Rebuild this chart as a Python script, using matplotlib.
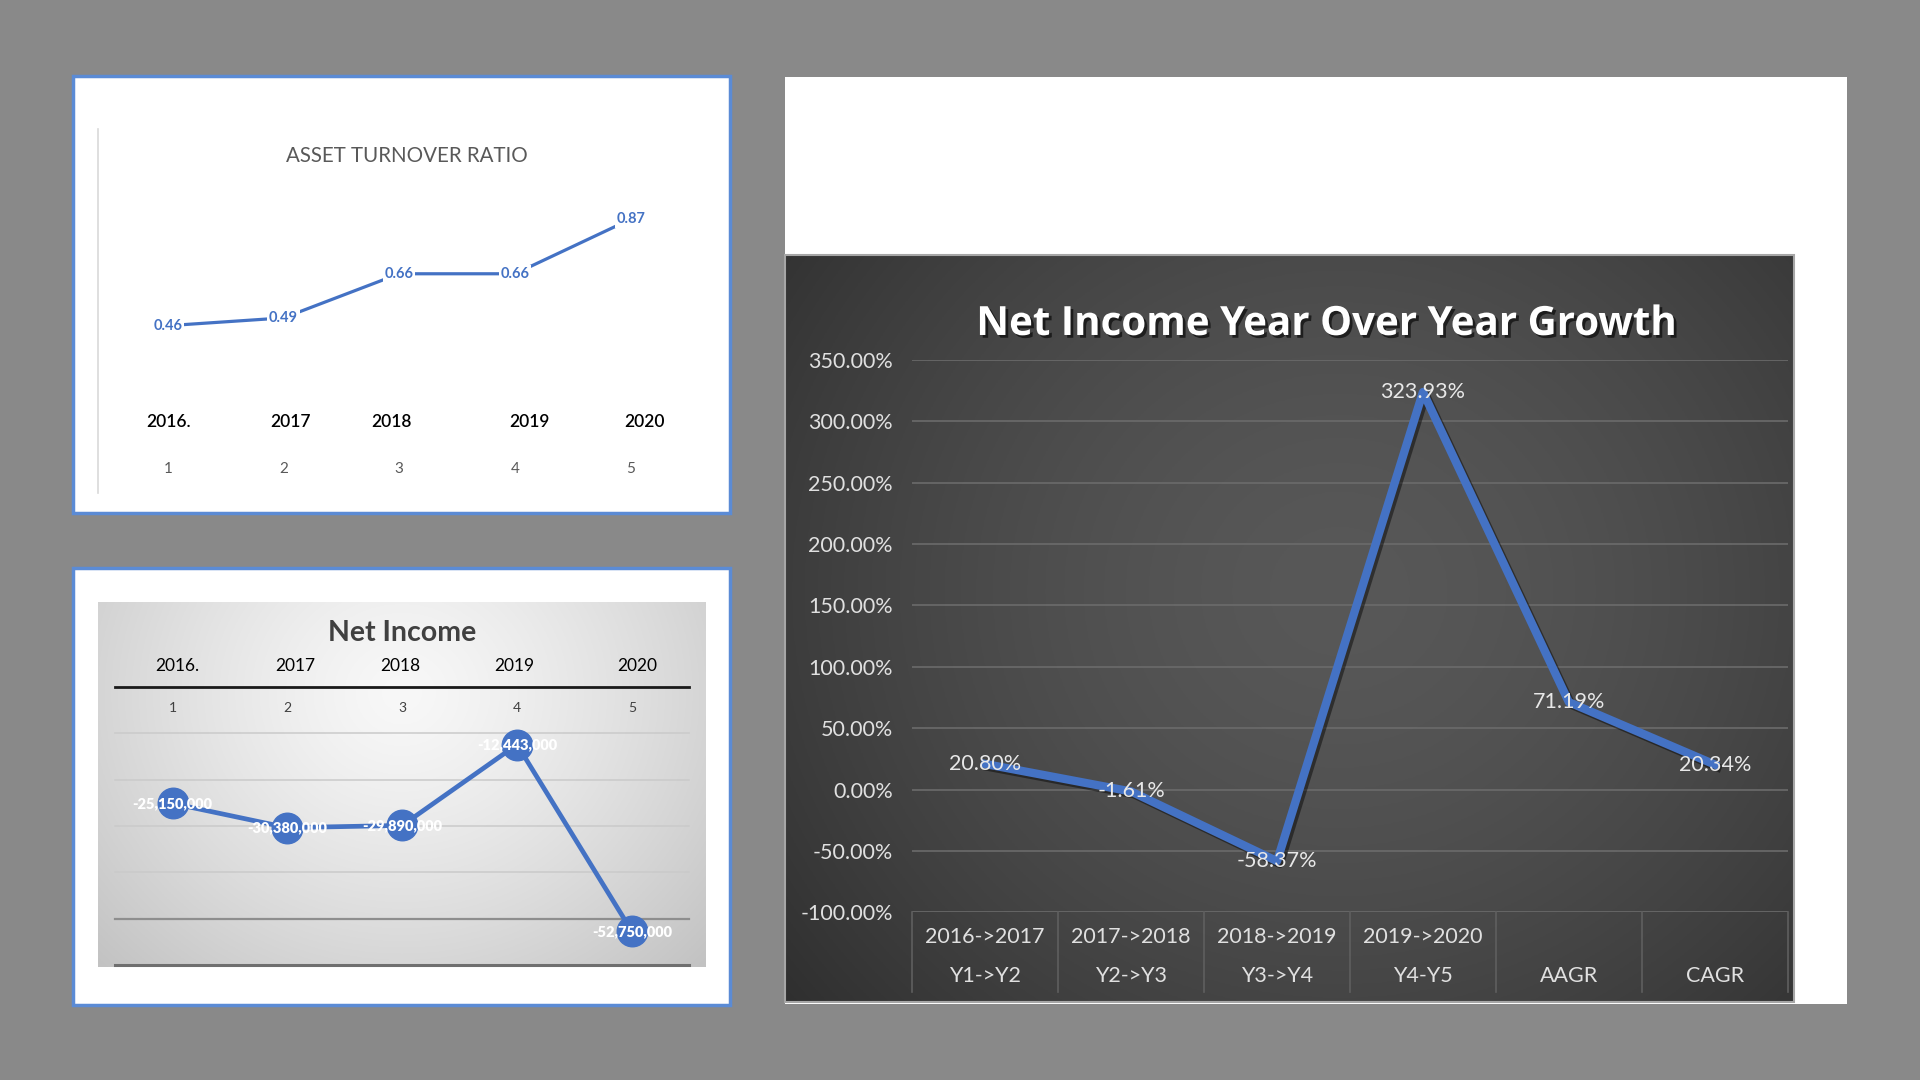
"""Three financial charts on one slide: asset turnover, net income and its growth."""

import numpy as np
import matplotlib
matplotlib.use("Agg")
from matplotlib import pyplot as plt
from matplotlib import patheffects as pe
from matplotlib import colors as mcolors
from matplotlib.patches import Rectangle
from matplotlib.transforms import blended_transform_factory

plt.rcParams['font.family'] = ['Lato', 'DejaVu Sans']

# Asset turnover ratio
atr_index = [1, 2, 3, 4, 5]
atr_years = ["2016.", "2017", "2018", "2019", "2020"]
atr_values = [0.46, 0.49, 0.66, 0.66, 0.87]

# Net income
ni_index = [1, 2, 3, 4, 5]
ni_years = ["2016.", "2017", "2018", "2019", "2020"]
ni_values = [-25150000, -30380000, -29890000, -12443000, -52750000]

# Net income year over year growth [%]
growth_periods = ["2016->2017", "2017->2018", "2018->2019", "2019->2020", "", ""]
growth_labels = ["Y1->Y2", "Y2->Y3", "Y3->Y4", "Y4-Y5", "AAGR", "CAGR"]
growth_values = [20.80, -1.61, -58.37, 323.93, 71.19, 20.34]

BLUE = '#4472c4'
W, H = 1568, 882    # layout grid the positions below are measured on


def rect(x0, y0, x1, y1):
    return [x0 / W, 1 - y1 / H, (x1 - x0) / W, (y1 - y0) / H]


def fy(y):
    return 1 - y / H


def gradient(fig, box, inner, outer, cx, cy, sx, sy, power=1.3):
    ax = fig.add_axes(rect(*box), zorder=0)
    yy, xx = np.mgrid[0:1:240j, 0:1:360j]
    r = np.clip(np.hypot((xx - cx) / sx, (yy - cy) / sy), 0, 1) ** power
    c_in = np.array(mcolors.to_rgb(inner))
    c_out = np.array(mcolors.to_rgb(outer))
    img = c_in + (c_out - c_in) * r[..., None]
    ax.imshow(img, extent=[0, 1, 0, 1], origin='lower', aspect='auto')
    ax.set_axis_off()
    return ax


fig = plt.figure(figsize=(19.2, 10.8), dpi=100)
fig.patch.set_facecolor('#898989')

# Panels
for box in [(60, 62, 596, 419), (60, 464, 596, 821)]:
    r = rect(*box)
    fig.add_artist(Rectangle((r[0], r[1]), r[2], r[3], transform=fig.transFigure,
                             fc='white', ec='#5b8bd5', lw=2.5, zorder=-1))
r = rect(641, 63, 1508, 820)
fig.add_artist(Rectangle((r[0], r[1]), r[2], r[3], transform=fig.transFigure,
                         fc='white', ec='none', zorder=-1))

# ---- Asset turnover ratio ----
fig.add_artist(plt.Line2D([80 / W, 80 / W], [fy(105), fy(403)], color='#d9d9d9', lw=1.2))
ax1 = fig.add_axes(rect(89.75, 151.5, 562.25, 321.1))
ax1.set_xlim(0.5, 5.5)
ax1.set_ylim(0.2, 1.0)
ax1.set_axis_off()
ax1.plot(atr_index, atr_values, color=BLUE, lw=2.3)
for x, v in zip(atr_index, atr_values):
    ax1.text(x, v, f"{v:.2f}", ha='center', va='center', color=BLUE, fontsize=10.5,
             fontweight='bold', bbox=dict(fc='white', ec='none', pad=1.2))
fig.text(332 / W, fy(127), "ASSET TURNOVER RATIO", ha='center', va='center',
         color='#595959', fontsize=14.8)
atr_year_x = [138, 237, 320, 432, 526]
for x, yr in zip(atr_year_x, atr_years):
    fig.text(x / W, fy(345), yr, ha='center', va='center', color='black',
             fontsize=12.5, fontweight='semibold')
t1 = blended_transform_factory(ax1.transData, fig.transFigure)
for x in atr_index:
    ax1.text(x, fy(383), str(x), transform=t1, ha='center', va='center',
             color='#595959', fontsize=11)

# ---- Net income ----
gradient(fig, (80, 492, 576, 790), '#f8f8f8', '#c0c0c0', 0.5, 0.75, 0.72, 1.1)
ax2 = fig.add_axes(rect(94.1, 561, 562.9, 788), zorder=2)
ax2.patch.set_alpha(0)
ax2.set_xlim(0.5, 5.5)
ax2.set_ylim(-60e6, 0)
ax2.set_yticks(np.arange(-60e6, 1, 10e6))
ax2.set_xticks([])
ax2.tick_params(left=False, labelleft=False)
for s in ax2.spines.values():
    s.set_visible(False)
ax2.yaxis.grid(True)
grid_styles = [('#6f6f6f', 2.2), ('#8e8e8e', 1.6), ('#cacaca', 1.1), ('#cacaca', 1.1),
               ('#cacaca', 1.1), ('#cacaca', 1.1), ('#1a1a1a', 2.0)]
for gl, (c, lw) in zip(ax2.get_ygridlines(), grid_styles):
    gl.set_color(c)
    gl.set_linewidth(lw)
    gl.set_clip_on(False)
ax2.plot(ni_index, ni_values, '-o', color=BLUE, lw=3.4, ms=22, zorder=3)
for x, v in zip(ni_index, ni_values):
    ax2.text(x, v, f"{v:,}", ha='center', va='center', color='white', fontsize=10.5,
             fontweight='heavy', zorder=4)
fig.text(328 / W, fy(517), "Net Income", ha='center', va='center', color='#404040',
         fontsize=20.5, fontweight='bold', zorder=3)
ni_year_x = [145, 241, 327, 420, 520]
for x, yr in zip(ni_year_x, ni_years):
    fig.text(x / W, fy(544), yr, ha='center', va='center', color='black', fontsize=12.5,
             zorder=3)
t2 = blended_transform_factory(ax2.transData, fig.transFigure)
for x in ni_index:
    ax2.text(x, fy(578), str(x), transform=t2, ha='center', va='center',
             color='#404040', fontsize=10)

# ---- Net income year over year growth ----
gradient(fig, (641, 208, 1465, 818), '#585858', '#262626', 0.55, 0.55, 0.8, 1.0, 1.6)
r = rect(641, 208, 1465, 818)
fig.add_artist(Rectangle((r[0], r[1]), r[2], r[3], transform=fig.transFigure,
                         fc='none', ec='#a6a6a6', lw=1.5, zorder=1))
ax3 = fig.add_axes(rect(745, 294, 1460, 745), zorder=2)
ax3.patch.set_alpha(0)
ax3.set_xlim(-0.5, 5.5)
ax3.set_ylim(-100, 350)
ax3.set_yticks(np.arange(-100, 351, 50))
ax3.set_yticklabels([f"{v:.2f}%" for v in np.arange(-100, 351, 50)])
ax3.set_xticks([])
ax3.tick_params(axis='y', length=0, pad=14, labelsize=15.5, labelcolor='#e0e0e0')
for s in ax3.spines.values():
    s.set_visible(False)
ax3.yaxis.grid(True, color='#6b6b6b', lw=1.2)
ax3.plot(range(len(growth_values)), growth_values, color=BLUE, lw=6,
         path_effects=[pe.SimpleLineShadow(offset=(2, -2), alpha=0.45), pe.Normal()])
for x, v in enumerate(growth_values):
    ax3.text(x, v, f"{v:.2f}%", ha='center', va='center', color='#e8e8e8', fontsize=15.5)
for i, (p, lab) in enumerate(zip(growth_periods, growth_labels)):
    ax3.text(i, -0.045, p, transform=ax3.get_xaxis_transform(), ha='center', va='center',
             color='#e0e0e0', fontsize=15.5)
    ax3.text(i, -0.115, lab, transform=ax3.get_xaxis_transform(), ha='center', va='center',
             color='#e0e0e0', fontsize=15.5)
for b in np.arange(-0.5, 6, 1.0):
    ax3.plot([b, b], [0, -0.144], transform=ax3.get_xaxis_transform(), color='#5f5f5f',
             lw=1.2, clip_on=False)
fig.text(1083 / W, fy(265), "Net Income Year Over Year Growth", ha='center', va='center',
         color='white', fontsize=29, fontweight='bold', zorder=3, family='Open Sans',
         path_effects=[pe.SimplePatchShadow(offset=(2, -2), shadow_rgbFace='black', alpha=0.6),
                       pe.Normal()])

fig.savefig('out.png', dpi=100, facecolor=fig.get_facecolor())
